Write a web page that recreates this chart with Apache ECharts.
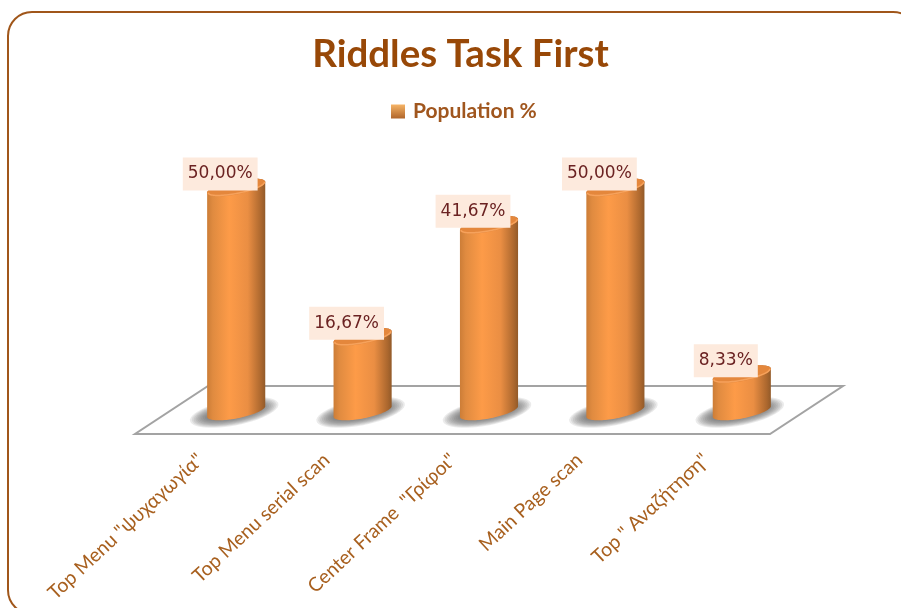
<!DOCTYPE html>
<html>
<head>
<meta charset="utf-8">
<style>
  html, body { margin: 0; padding: 0; background: #fff; overflow: hidden; }
  #chart { width: 901px; height: 608px; }
</style>
<script src="https://cdn.jsdelivr.net/npm/echarts@6/dist/echarts.min.js"></script>
</head>
<body>
<div id="chart"></div>
<script>
const categories = ['Top Menu "ψυχαγωγία"', 'Top Menu serial scan', 'Center Frame  "Γρίφοι"', 'Main Page scan', 'Top " Αναζήτηση"'];
const populationPct = [50, 16.67, 41.67, 50, 8.33];
const seriesName = 'Population %';
const chartTitle = 'Riddles Task First';

const BROWN = '#984807';
const SANS = 'Lato, "Open Sans", "Noto Sans", sans-serif';

// Plot area: the value scale runs along the front-left edge of each cylinder.
const plot = { left: 173, top: 193, width: 632, height: 224 };

// Points along a tilted ellipse, used for cylinder caps, bases and shadows.
function ellipse(cx, cy, rx, ry, tiltDeg, fromDeg, toDeg) {
  const a = tiltDeg * Math.PI / 180, pts = [], steps = 48;
  for (let i = 0; i <= steps; i++) {
    const t = (fromDeg + (toDeg - fromDeg) * i / steps) * Math.PI / 180;
    const ex = rx * Math.cos(t), ey = ry * Math.sin(t);
    pts.push([cx + ex * Math.cos(a) - ey * Math.sin(a), cy + ex * Math.sin(a) + ey * Math.cos(a)]);
  }
  return pts;
}

const bodyFill = {
  type: 'linear', x: 0, y: 0, x2: 1, y2: 0,
  colorStops: [
    { offset: 0, color: '#cc7d37' },
    { offset: 0.1, color: '#e08b40' },
    { offset: 0.38, color: '#fd9b48' },
    { offset: 0.7, color: '#ea8e43' },
    { offset: 0.93, color: '#ab672e' },
    { offset: 1, color: '#925a29' }
  ]
};

// A soft cast shadow built from nested translucent ellipses.
function softShadow(cx, cy, tilt) {
  const rings = [];
  for (let i = 0; i < 10; i++) {
    rings.push({
      type: 'polygon', z2: 1,
      shape: { points: ellipse(cx, cy, 45 - i * 1.9, 13 - i * 0.8, tilt, 0, 360) },
      style: { fill: 'rgba(90,90,90,0.12)' }
    });
  }
  return rings;
}

function renderCylinder(params, api) {
  const value = api.value(1);
  const top = api.coord([api.value(0), value]);
  const base = api.coord([api.value(0), 0]);
  const rx = 29.6, ry = 7, tilt = -11, lift = 5.6;
  const bx = base[0], by = base[1] - lift, ty = top[1] - lift;

  const front = ellipse(bx, by, rx, ry, tilt, 180, 0);
  const back = ellipse(bx, ty, rx, ry, tilt, 0, -180);
  const lip = ellipse(bx, ty, rx - 1, ry - 1, tilt, 180, 0);
  const text = value.toFixed(2).replace('.', ',') + '%';

  return {
    type: 'group',
    children: softShadow(bx - 2, by + 1, tilt).concat([
      { type: 'polygon', z2: 2, shape: { points: front.concat(back) }, style: { fill: bodyFill } },
      { type: 'polygon', z2: 3, shape: { points: ellipse(bx, ty, rx, ry, tilt, 0, 360) }, style: { fill: '#e4873c' } },
      { type: 'polyline', z2: 4, shape: { points: lip }, style: { fill: null, stroke: '#f6a25c', lineWidth: 1.5 } },
      {
        type: 'text', z2: 6,
        x: top[0] - 16, y: top[1] - 19,
        style: {
          text, fill: '#6b2222', font: '17px "DejaVu Sans", sans-serif',
          align: 'center', verticalAlign: 'middle',
          backgroundColor: '#fdeadd', padding: [8, 5, 8, 5]
        }
      }
    ])
  };
}

// Floor plane sits just in front of the value-zero line and recedes to the right.
const floorFront = plot.top + plot.height + 17;
const floorBack = floorFront - 48;
const floorLeft = plot.left - 38;
const floorRight = plot.left + plot.width - 35;
const floorSlant = 73;

const option = {
  animation: false,
  backgroundColor: '#ffffff',
  title: {
    text: chartTitle, left: 455.5, top: 30, textAlign: 'center',
    textStyle: { color: BROWN, fontFamily: SANS, fontWeight: 'bold', fontSize: 38.5 }
  },
  legend: {
    left: 386, top: 96, itemWidth: 14, itemHeight: 14,
    icon: 'rect', data: [seriesName],
    textStyle: { color: '#a0561e', fontFamily: SANS, fontWeight: 'bold', fontSize: 21, padding: [0, 0, 0, 3] }
  },
  grid: [
    plot,
    { left: plot.left - 36, top: 300, width: plot.width, height: 140 }
  ],
  xAxis: [
    { type: 'category', gridIndex: 0, data: categories, show: false },
    {
      type: 'category', gridIndex: 1, data: categories,
      axisLine: { show: false }, axisTick: { show: false },
      axisLabel: {
        interval: 0, rotate: 43, margin: 17, hideOverlap: false,
        color: '#a8601f', fontFamily: SANS, fontSize: 19.5
      }
    }
  ],
  yAxis: [
    { type: 'value', gridIndex: 0, min: 0, max: 50, show: false },
    { type: 'value', gridIndex: 1, min: 0, max: 50, show: false }
  ],
  graphic: [
    {
      type: 'rect', z: -10, silent: true,
      shape: { x: 8, y: 12, width: 909, height: 602, r: 24 },
      style: { fill: '#ffffff', stroke: '#a0561a', lineWidth: 2 }
    },
    {
      type: 'polygon', z: -5, silent: true,
      shape: { points: [[floorLeft, floorFront], [floorRight, floorFront], [floorRight + floorSlant, floorBack], [floorLeft + floorSlant, floorBack]] },
      style: { fill: '#ffffff', stroke: '#a3a3a3', lineWidth: 2 }
    }
  ],
  series: [{
    name: seriesName,
    type: 'custom',
    xAxisIndex: 0, yAxisIndex: 0,
    clip: false,
    itemStyle: {
      color: { type: 'linear', x: 0, y: 0, x2: 0, y2: 1, colorStops: [
        { offset: 0, color: '#f6b466' }, { offset: 1, color: '#b0652a' }
      ] }
    },
    encode: { x: 0, y: 1 },
    data: populationPct.map((v, i) => [i, v]),
    renderItem: renderCylinder
  }]
};

echarts.init(document.getElementById('chart'), null, { renderer: 'canvas' }).setOption(option);
</script>
</body>
</html>
